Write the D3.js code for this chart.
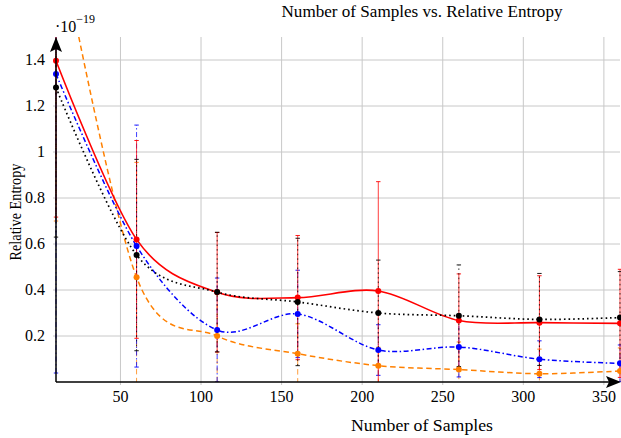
<!DOCTYPE html>
<html><head><meta charset="utf-8">
<script src="https://cdn.jsdelivr.net/npm/d3@7"></script>
<style>body{margin:0;background:#fff}svg{display:block}</style>
</head><body><svg id="c" width="621" height="438" font-family="Liberation Serif, Times New Roman, serif"></svg>
<script>
const samples = [10, 60, 110, 160, 210, 260, 310, 360];
const redVals   = [1.397, 0.62, 0.39, 0.367, 0.396, 0.267, 0.258, 0.255];
const redErr    = [0.68, 0.43, 0.26, 0.27, 0.475, 0.203, 0.204, 0.235];
const blueVals  = [1.339, 0.591, 0.226, 0.296, 0.139, 0.152, 0.099, 0.081];
const blueErr   = [1.3, 0.526, 0.226, 0.19, 0.11, 0.13, 0.08, 0.08];
const blackVals = [1.28, 0.552, 0.391, 0.348, 0.30, 0.288, 0.272, 0.28];
const blackErr  = [0.65, 0.416, 0.26, 0.277, 0.23, 0.221, 0.2, 0.2];
const orangeVals= [2.0, 0.455, 0.2, 0.123, 0.071, 0.054, 0.036, 0.048];
const orangeErr = [1.3, 0.5, 0.2, 0.13, 0.08, 0.12, 0.107, 0.1];
const xTicks = [50, 100, 150, 200, 250, 300, 350];
const yTicks = [0.2, 0.4, 0.6, 0.8, 1.0, 1.2, 1.4];
const yTickLabels = ["0.2", "0.4", "0.6", "0.8", "1", "1.2", "1.4"];

const FONT = "Liberation Serif, Times New Roman, serif";
const svg = d3.select("#c");
const L = 56, R = 620, T = 37, B = 382;
const x = d3.scaleLinear().domain([10, 360]).range([L, R]);
const y = d3.scaleLinear().domain([0, 1.5]).range([B, T]);

const defs = svg.append("defs");
defs.append("clipPath").attr("id", "clip").append("rect")
  .attr("x", L - 6).attr("y", T).attr("width", R - L + 12).attr("height", B - T);

// grid
const grid = svg.append("g");
grid.selectAll(".gx").data(xTicks).join("line")
  .attr("x1", d => x(d)).attr("x2", d => x(d)).attr("y1", T).attr("y2", B + 3)
  .attr("stroke", "#c8c8c8").attr("stroke-width", 1);
grid.selectAll(".gy").data(yTicks).join("line")
  .attr("y1", d => y(d)).attr("y2", d => y(d)).attr("x1", L - 3).attr("x2", R)
  .attr("stroke", "#c8c8c8").attr("stroke-width", 1);

// tick labels
svg.append("g").selectAll("text").data(xTicks).join("text")
  .attr("x", d => x(d)).attr("y", 402).attr("text-anchor", "middle")
  .attr("font-family", FONT).attr("font-size", 16).attr("fill", "#000").text(d => d);
svg.append("g").selectAll("text").data(yTicks).join("text")
  .attr("x", 45).attr("y", d => y(d) + 5).attr("text-anchor", "end")
  .attr("font-family", FONT).attr("font-size", 16).attr("fill", "#000").text((d, i) => yTickLabels[i]);

const series = [
  {vals: orangeVals, err: orangeErr, color: "#ff8000", dash: "5.5 3.5", w: 1.5},
  {vals: blueVals, err: blueErr, color: "#0000ff", dash: "5 2.5 1.5 2.5", w: 1.5},
  {vals: redVals, err: redErr, color: "#ff0000", dash: null, w: 1.6},
  {vals: blackVals, err: blackErr, color: "#000000", dash: "1.6 3", w: 1.7},
];

const plot = svg.append("g").attr("clip-path", "url(#clip)");
const line = d3.line().x(d => x(d[0])).y(d => y(d[1])).curve(d3.curveCardinal.tension(0.05));

series.forEach(s => {
  const pts = samples.map((v, i) => [v, s.vals[i], s.err[i]]);
  const g = plot.append("g");
  pts.forEach(p => {
    g.append("line").attr("x1", x(p[0])).attr("x2", x(p[0]))
      .attr("y1", y(p[1] - p[2])).attr("y2", y(p[1] + p[2]))
      .attr("stroke", s.color).attr("stroke-width", 0.9).attr("stroke-opacity", 0.85)
      .attr("stroke-dasharray", s.dash);
    [p[1] - p[2], p[1] + p[2]].forEach(e => {
      g.append("line").attr("x1", x(p[0]) - 2.2).attr("x2", x(p[0]) + 2.2)
        .attr("y1", y(e)).attr("y2", y(e))
        .attr("stroke", s.color).attr("stroke-width", 0.9);
    });
  });
  g.append("path").datum(pts).attr("d", line).attr("fill", "none")
    .attr("stroke", s.color).attr("stroke-width", s.w).attr("stroke-dasharray", s.dash);
});
series.forEach(s => {
  const pts = samples.map((v, i) => [v, s.vals[i]]).filter(p => p[1] <= 1.5);
  svg.append("g").selectAll("circle").data(pts).join("circle")
    .attr("cx", d => x(d[0])).attr("cy", d => y(d[1])).attr("r", 3)
    .attr("fill", s.color);
});

// axes
svg.append("line").attr("x1", L).attr("x2", L).attr("y1", B).attr("y2", T + 10)
  .attr("stroke", "#000").attr("stroke-width", 1.5);
svg.append("line").attr("x1", L).attr("x2", R - 8).attr("y1", B).attr("y2", B)
  .attr("stroke", "#000").attr("stroke-width", 1.5);
svg.append("path").attr("d", `M${L},${T} L${L - 6},${T + 15} L${L},${T + 12} L${L + 6},${T + 15} Z`).attr("fill", "#000");
svg.append("path").attr("d", `M621,${B} L606,${B - 6} L609,${B} L606,${B + 6} Z`).attr("fill", "#000");

// exponent label
const ex = svg.append("text").attr("x", 55).attr("y", 32).attr("font-family", FONT).attr("font-size", 16).attr("fill", "#000");
ex.append("tspan").text("·10");
ex.append("tspan").attr("dy", -9).attr("font-size", 12).text("−19");

// titles
svg.append("text").attr("x", 422).attr("y", 17).attr("text-anchor", "middle")
  .attr("font-family", FONT).attr("font-size", 16).attr("fill", "#000")
  .attr("textLength", 281).attr("lengthAdjust", "spacingAndGlyphs")
  .text("Number of Samples vs. Relative Entropy");
svg.append("text").attr("x", 422).attr("y", 431).attr("text-anchor", "middle")
  .attr("font-family", FONT).attr("font-size", 16).attr("fill", "#000")
  .attr("textLength", 142).attr("lengthAdjust", "spacingAndGlyphs")
  .text("Number of Samples");
svg.append("text").attr("transform", "translate(21,212) rotate(-90)").attr("text-anchor", "middle")
  .attr("font-family", FONT).attr("font-size", 16).attr("fill", "#000")
  .attr("textLength", 97).attr("lengthAdjust", "spacingAndGlyphs")
  .text("Relative Entropy");
</script></body></html>
